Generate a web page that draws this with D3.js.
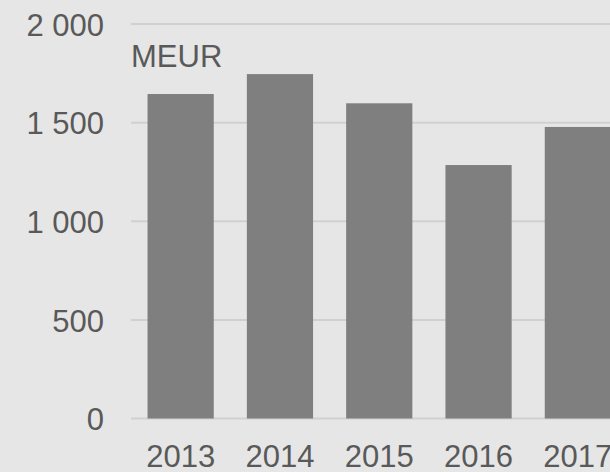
<!DOCTYPE html>
<html>
<head>
<meta charset="utf-8">
<script src="https://cdn.jsdelivr.net/npm/d3@7"></script>
<style>
  html, body { margin: 0; padding: 0; background: #e6e6e6; }
  svg { display: block; }
</style>
</head>
<body>
<script>
// values
var years = ["2013", "2014", "2015", "2016", "2017"];
var values = [1645, 1746, 1598, 1285, 1478];
var yTicks = [0, 500, 1000, 1500, 2000];
var unitLabel = "MEUR";

var width = 610, height = 472;
var textColour = "#595959";

var svgContainer = d3.select("body")
                     .append("svg")
                     .attr("width", width)
                     .attr("height", height);

svgContainer.append("rect")
            .attr("width", width)
            .attr("height", height)
            .attr("fill", "#e6e6e6");

// band range runs past the right edge, last bar is cut off like the original
var x = d3.scaleBand()
          .domain(years)
          .range([131, 627.5])
          .paddingInner(1/3)
          .paddingOuter(1/6);

var y = d3.scaleLinear()
          .domain([0, 2000])
          .range([418.5, 24]);

// grid lines
svgContainer.selectAll(".grid")
            .data(yTicks)
            .enter()
            .append("line")
            .attr("class", "grid")
            .attr("x1", 131)
            .attr("x2", width)
            .attr("y1", function(d){ return y(d); })
            .attr("y2", function(d){ return y(d); })
            .attr("stroke", "#d0d0d0")
            .attr("stroke-width", 2);

// bars
svgContainer.selectAll(".bar")
            .data(values)
            .enter()
            .append("rect")
            .attr("class", "bar")
            .attr("x", function(d, i){ return x(years[i]); })
            .attr("width", x.bandwidth())
            .attr("y", function(d){ return y(d); })
            .attr("height", function(d){ return y(0) - y(d); })
            .attr("fill", "#7f7f7f");

// y axis labels, thousands split with a space
var fmt = function(d){ return d3.format(",")(d).replace(/,/g, " "); };

var yAxis = d3.axisLeft(y)
              .tickValues(yTicks)
              .tickFormat(fmt)
              .tickSize(0)
              .tickPadding(0);

var yG = svgContainer.append("g")
                     .attr("transform", "translate(104,0)")
                     .call(yAxis);
yG.select(".domain").remove();
yG.selectAll("text")
  .attr("fill", textColour)
  .attr("font-family", "Liberation Sans, Arial, sans-serif")
  .attr("font-size", 31)
  .attr("dy", "0.36em");

// x axis labels
var xAxis = d3.axisBottom(x)
              .tickSize(0)
              .tickPadding(0);

var xG = svgContainer.append("g")
                     .attr("transform", "translate(0,445)")
                     .call(xAxis);
xG.select(".domain").remove();
xG.selectAll("text")
  .attr("fill", textColour)
  .attr("font-family", "Liberation Sans, Arial, sans-serif")
  .attr("font-size", 31)
  .attr("dy", "0.71em");

// unit label
svgContainer.append("text")
            .attr("x", 131)
            .attr("y", 67)
            .attr("fill", textColour)
            .attr("font-family", "Liberation Sans, Arial, sans-serif")
            .attr("font-size", 31)
            .text(unitLabel);
</script>
</body>
</html>
